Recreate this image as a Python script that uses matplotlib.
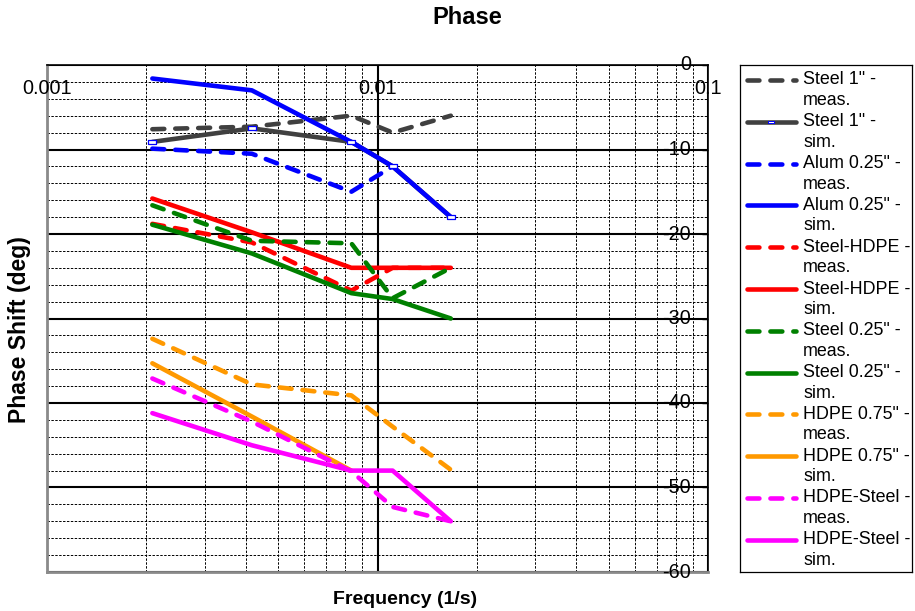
import numpy as np
import matplotlib
matplotlib.use("Agg")
import matplotlib.pyplot as plt
from matplotlib.ticker import FixedLocator, NullFormatter

plt.rcParams['font.family'] = ['Liberation Sans', 'DejaVu Sans']

W, H = 915, 611
nan = np.nan

# Forcing frequencies (1/s): periods of 8, 4, 2, 1.5 and 1 minutes
freq = [1 / 480, 1 / 240, 1 / 120, 1 / 90, 1 / 60]

steel1_meas = [-7.6, -7.3, -6.0, -8.0, -6.0]
steel1_sim = [-9.1, -7.5, -9.1, -12.0, -18.0]
alum_meas = [-9.9, -10.5, -15.0, -12.0, nan]
alum_sim = [-1.6, -3.0, -9.1, -12.0, -18.0]
steel_hdpe_meas = [-18.8, -21.0, -26.7, -24.0, -24.0]
steel_hdpe_sim = [-15.8, -19.8, -24.0, -24.0, -24.0]
steel025_meas = [-16.6, -20.8, -21.1, -27.6, -24.0]
steel025_sim = [-18.9, -22.3, -27.0, -27.7, -30.0]
hdpe075_meas = [-32.4, -37.8, -39.1, -42.8, -47.9]
hdpe075_sim = [-35.3, -41.6, -48.0, nan, nan]
hdpe_steel_meas = [-37.1, -42.2, -48.1, -52.3, -54.0]
hdpe_steel_sim = [-41.2, -45.0, -48.0, -48.0, -54.0]

series_names = [
    'Steel 1" -\nmeas.', 'Steel 1" -\nsim.',
    'Alum 0.25" -\nmeas.', 'Alum 0.25" -\nsim.',
    'Steel-HDPE -\nmeas.', 'Steel-HDPE -\nsim.',
    'Steel 0.25" -\nmeas.', 'Steel 0.25" -\nsim.',
    'HDPE 0.75" -\nmeas.', 'HDPE 0.75" -\nsim.',
    'HDPE-Steel -\nmeas.', 'HDPE-Steel -\nsim.',
]
series_values = [
    steel1_meas, steel1_sim, alum_meas, alum_sim,
    steel_hdpe_meas, steel_hdpe_sim, steel025_meas, steel025_sim,
    hdpe075_meas, hdpe075_sim, hdpe_steel_meas, hdpe_steel_sim,
]
pair_colors = ['#404040', '#0000FF', '#FF0000', '#008000', '#FF9900', '#FF00FF']

x_tick_values = [0.001, 0.01, 0.1]
x_tick_labels = ['0.001', '0.01', '0.1']
y_tick_values = [0, -10, -20, -30, -40, -50, -60]
y_tick_labels = ['0', '-10', '-20', '-30', '-40', '-50', '-60']

LW = 3.3
DASH = (0, (2.6, 2.4))


def fx(px):
    return px / W


def fy(py):
    return 1 - py / H


fig = plt.figure(figsize=(W / 100, H / 100), dpi=100)
ax = fig.add_axes([fx(47), fy(572), fx(708) - fx(47), (572 - 65) / H])

ax.set_xscale('log')
ax.set_xlim(0.001, 0.1)
ax.set_ylim(-60, 0)

ax.xaxis.set_major_locator(FixedLocator(x_tick_values))
ax.xaxis.set_minor_locator(FixedLocator(
    [k * 10.0 ** e for e in (-3, -2) for k in range(2, 10)]))
ax.xaxis.set_major_formatter(NullFormatter())
ax.xaxis.set_minor_formatter(NullFormatter())
ax.yaxis.set_major_locator(FixedLocator(y_tick_values))
ax.yaxis.set_minor_locator(FixedLocator(np.arange(-60, 1, 2)))
ax.yaxis.set_major_formatter(NullFormatter())

ax.tick_params(axis='x', which='both', length=0)
ax.tick_params(axis='y', which='minor', length=0)
ax.tick_params(axis='y', which='major', left=False, right=True,
               direction='in', length=4, width=1, labelleft=False)

ax.grid(which='major', color='black', lw=1.5, ls='-', zorder=0)
ax.grid(which='minor', color='black', lw=0.7, ls=(0, (2.5, 1.5)), zorder=0)
ax.set_axisbelow(True)

for side in ('left', 'bottom'):
    ax.spines[side].set_color('#8a8a8a')
    ax.spines[side].set_linewidth(2.0)
for side in ('top', 'right'):
    ax.spines[side].set_color('black')
    ax.spines[side].set_linewidth(1.2)

rect_marker = [(-1, -0.5), (1, -0.5), (1, 0.5), (-1, 0.5), (-1, -0.5)]

for i, vals in enumerate(series_values):
    color = pair_colors[i // 2]
    ls = DASH if i % 2 == 0 else '-'
    ax.plot(freq, vals, color=color, lw=LW, ls=ls,
            dash_capstyle='round', solid_capstyle='round',
            dash_joinstyle='round', solid_joinstyle='round', zorder=3 + i * 0.01)

# hollow point markers of the steel 1" simulation sit above all lines
ax.plot(freq, steel1_sim, ls='none', marker=rect_marker, markersize=6,
        mfc='white', mec='#0000FF', mew=0.9, zorder=10)

# tick labels drawn inside the plotting area
for v, t in zip(x_tick_values, x_tick_labels):
    ax.text(v, 1 - (89 - 65) / 507, t, transform=ax.get_xaxis_transform(),
            ha='center', va='center', fontsize=14.3, zorder=11, clip_on=False)
for v, t in zip(y_tick_values, y_tick_labels):
    ax.text(1 - (708 - 691) / 661, v, t, transform=ax.get_yaxis_transform(),
            ha='right', va='center', fontsize=14.3, zorder=11, clip_on=False)

fig.text(fx(467), fy(18), 'Phase', ha='center', va='center',
         fontsize=17, fontweight='bold')
fig.text(fx(405), fy(599), 'Frequency (1/s)', ha='center', va='center',
         fontsize=14, fontweight='bold')
fig.text(fx(20), fy(330), 'Phase Shift (deg)', ha='center', va='center',
         rotation=90, fontsize=16.5, fontweight='bold')

# legend panel
lax = fig.add_axes([fx(740), fy(572), fx(912) - fx(740), (572 - 65) / H])
lax.set_xlim(740, 912)
lax.set_ylim(572, 65)
lax.set_xticks([])
lax.set_yticks([])
for s in lax.spines.values():
    s.set_color('black')
    s.set_linewidth(0.9)

for i, name in enumerate(series_names):
    color = pair_colors[i // 2]
    ls = DASH if i % 2 == 0 else '-'
    y = 80 + 41.8 * i
    lax.plot([746.5, 795.5], [y, y], color=color, lw=LW, ls=ls,
             dash_capstyle='round', solid_capstyle='round')
    if i == 1:
        lax.plot([771], [y], ls='none', marker=rect_marker, markersize=4,
                 mfc='white', mec='#0000FF', mew=0.7)
    first, second = name.split('\n')
    lax.text(803, y, first, ha='left', va='center', fontsize=12.9)
    lax.text(803, y + 20.5, second, ha='left', va='center', fontsize=12.9)

fig.savefig('out.png', dpi=100)
